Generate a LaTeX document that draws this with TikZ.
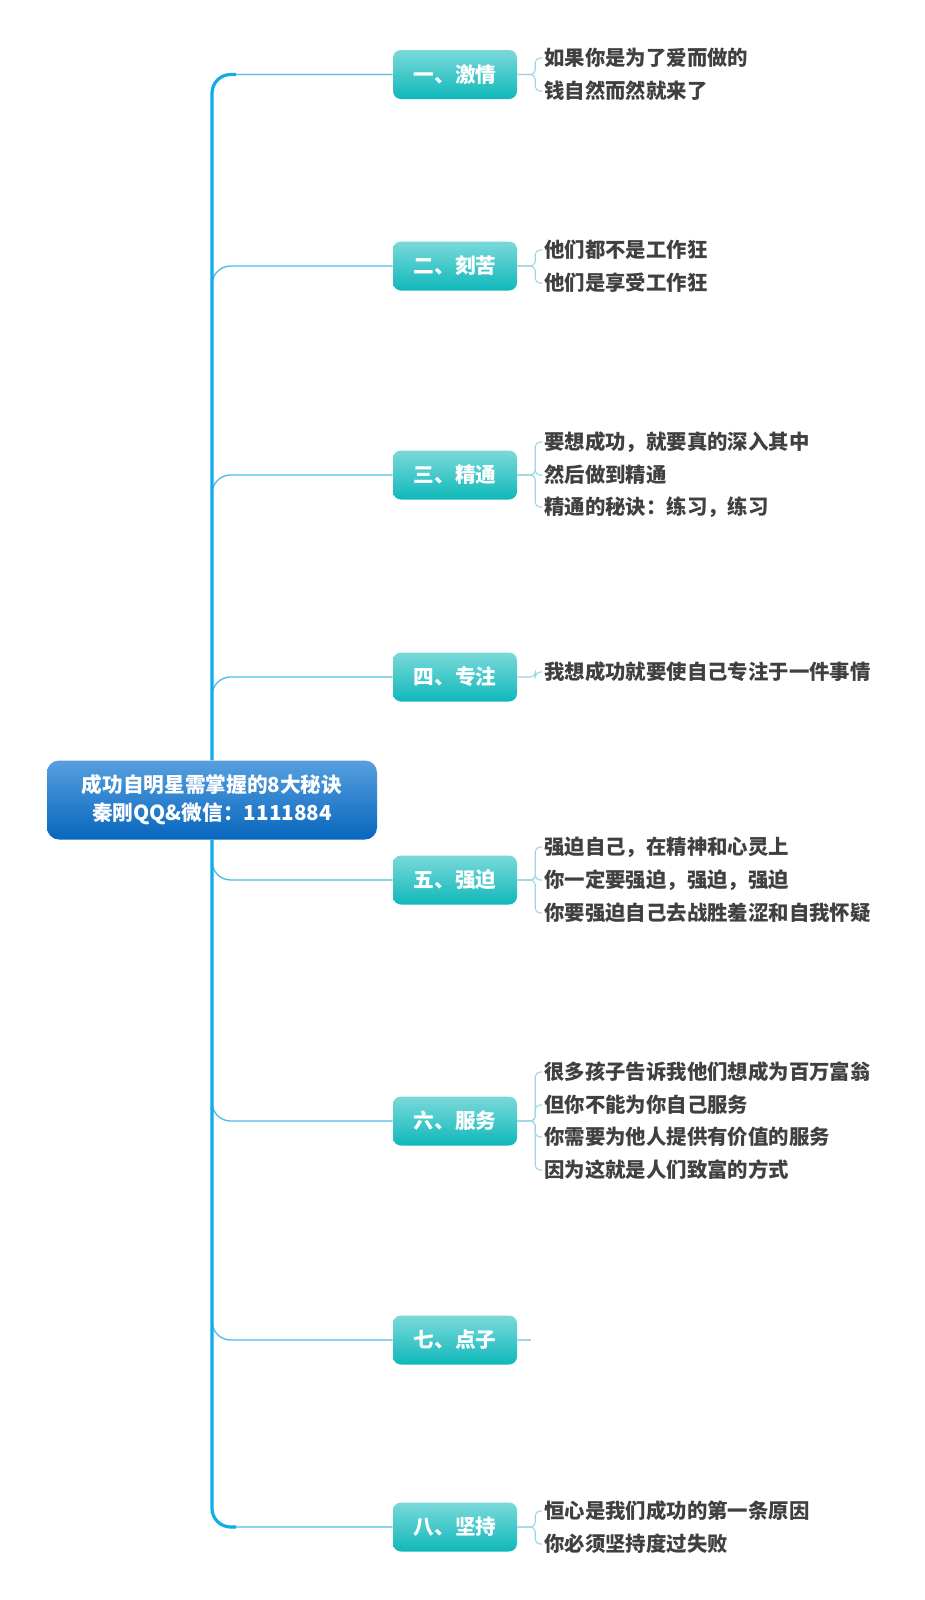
\documentclass[tikz,border=0pt]{standalone}
\usepackage{fontspec}
\setmainfont{Noto Sans CJK SC}
\definecolor{trunk}{HTML}{12ACE6}
\definecolor{branchln}{HTML}{4CBDE6}
\definecolor{leafln}{HTML}{9FD6E6}
\definecolor{roottop}{HTML}{569FDF}
\definecolor{rootbot}{HTML}{0866BD}
\definecolor{brtop}{HTML}{7AD9DA}
\definecolor{brbot}{HTML}{0FB8BA}
\definecolor{leaftxt}{HTML}{404040}
\tikzset{
  rootbox/.style={rounded corners=9pt, minimum width=247.5pt, minimum height=59.25pt, inner sep=0pt,
    top color=roottop, bottom color=rootbot, draw=none, text=white,
    font=\fontsize{15.5pt}{21pt}\selectfont\bfseries, align=center},
  brbox/.style={rounded corners=6pt, minimum width=93pt, minimum height=36.75pt, inner sep=0pt,
    top color=brtop, bottom color=brbot, draw=none, text=white,
    font=\fontsize{15.5pt}{18pt}\selectfont\bfseries},
  leaf/.style={anchor=west, inner sep=0pt, text=leaftxt,
    font=\fontsize{15.3pt}{18pt}\selectfont\bfseries},
  brline/.style={draw=branchln, line width=1pt, rounded corners=14pt},
  trunkline/.style={draw=trunk, line width=2.4pt, rounded corners=14pt},
  leafline/.style={draw=leafln, line width=0.8pt, rounded corners=3.5pt},
}
\begin{document}
\begin{tikzpicture}[x=0.75pt, y=-0.75pt]
\useasboundingbox[fill=white] (0,0) rectangle (925,1600);
\node[rootbox] (root) at (212,800) {成功自明星需掌握的8大秘诀\\秦刚QQ\&微信：1111884};
\node[brbox] (b1) at (455,74.5) {一、激情};
\node[brbox] (b2) at (455,266) {二、刻苦};
\node[brbox] (b3) at (455,475) {三、精通};
\node[brbox] (b4) at (455,677) {四、专注};
\node[brbox] (b5) at (455,880) {五、强迫};
\node[brbox] (b6) at (455,1121) {六、服务};
\node[brbox] (b7) at (455,1340) {七、点子};
\node[brbox] (b8) at (455,1527) {八、坚持};
% branches
\foreach \b in {b1,b2,b3,b4}{
  \draw[brline] (root.north) |- (\b.west);
}
\foreach \b in {b5,b6,b7,b8}{
  \draw[brline] (root.south) |- (\b.west);
}
% trunk
\coordinate (ttop) at (236,74.5);
\coordinate (tbot) at (236,1527);
\draw[trunkline] (root.north) |- (ttop);
\draw[trunkline] (root.south) |- (tbot);
% leaves
\node[leaf] (l11) at (544,58) {如果你是为了爱而做的};
\node[leaf] (l12) at (544,91) {钱自然而然就来了};
\node[leaf] (l21) at (544,250) {他们都不是工作狂};
\node[leaf] (l22) at (544,283) {他们是享受工作狂};
\node[leaf] (l31) at (544,442) {要想成功，就要真的深入其中};
\node[leaf] (l32) at (544,475) {然后做到精通};
\node[leaf] (l33) at (544,507) {精通的秘诀：练习，练习};
\node[leaf] (l41) at (544,672) {我想成功就要使自己专注于一件事情};
\node[leaf] (l51) at (544,847) {强迫自己，在精神和心灵上};
\node[leaf] (l52) at (544,880) {你一定要强迫，强迫，强迫};
\node[leaf] (l53) at (544,913) {你要强迫自己去战胜羞涩和自我怀疑};
\node[leaf] (l61) at (544,1072) {很多孩子告诉我他们想成为百万富翁};
\node[leaf] (l62) at (544,1105) {但你不能为你自己服务};
\node[leaf] (l63) at (544,1137) {你需要为他人提供有价值的服务};
\node[leaf] (l64) at (544,1170) {因为这就是人们致富的方式};
\node[leaf] (l81) at (544,1511) {恒心是我们成功的第一条原因};
\node[leaf] (l82) at (544,1544) {你必须坚持度过失败};
\foreach \b/\l in {b1/l11,b1/l12,b2/l21,b2/l22,b3/l31,b3/l32,b3/l33,b4/l41,
  b5/l51,b5/l52,b5/l53,b6/l61,b6/l62,b6/l63,b6/l64,b8/l81,b8/l82}{
  \draw[leafline] (\b.east) -- ++(18,0) |- ([xshift=-1.5pt]\l.west);
}
\coordinate (b7end) at (531,1340);
\draw[leafline] (b7.east) -- (b7end);
\end{tikzpicture}
\end{document}
